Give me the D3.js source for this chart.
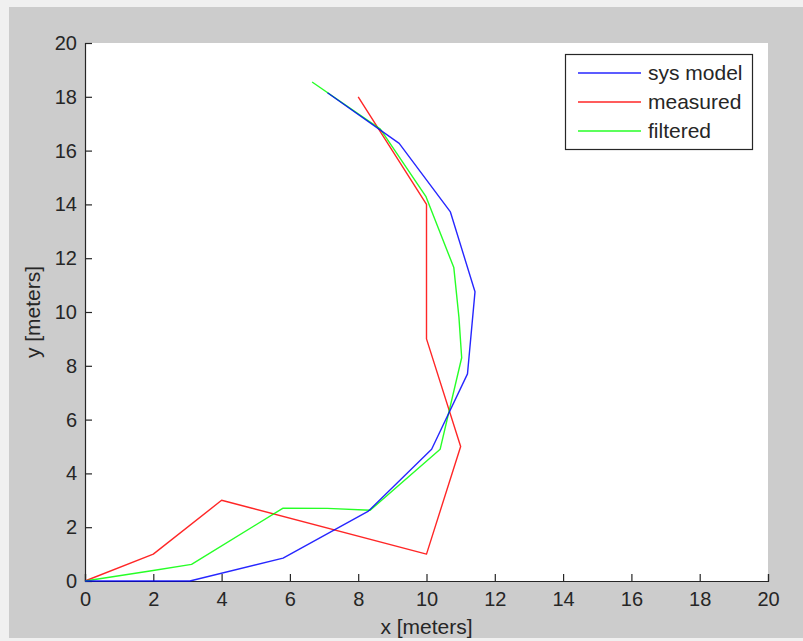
<!DOCTYPE html>
<html><head><meta charset="utf-8">
<script src="https://cdn.jsdelivr.net/npm/d3@7"></script>
<style>
html,body{margin:0;padding:0;background:#f0f0f0;}
svg{display:block;}
text{font-family:"Liberation Sans",Arial,sans-serif;fill:#262626;}
</style></head>
<body>
<svg id="chart" width="803" height="641"></svg>
<script>
const sysX = [0, 3.07, 5.8, 8.3, 10.15, 11.2, 11.42, 10.7, 9.2, 7.1];
const sysY = [0, 0, 0.85, 2.6, 4.9, 7.7, 10.75, 13.72, 16.27, 18.15];
const measuredX = [0, 2, 4, 10, 11, 10, 10, 8];
const measuredY = [0, 1, 3, 1, 5, 9, 14, 18];
const filteredX = [0, 1.95, 3.12, 5.8, 7.1, 8.35, 10.4, 11.03, 10.95, 10.8, 9.98, 8.65, 6.65];
const filteredY = [0, 0.38, 0.62, 2.71, 2.7, 2.63, 4.9, 8.3, 9.8, 11.65, 14.3, 16.8, 18.55];
const xTicks = [0,2,4,6,8,10,12,14,16,18,20];
const yTicks = [0,2,4,6,8,10,12,14,16,18,20];
const seriesNames = ["sys model","measured","filtered"];
const seriesColors = ["#0000ff","#ff0000","#00ff00"];

const svg = d3.select("#chart");
svg.append("rect").attr("x",9).attr("y",7).attr("width",794).attr("height",631).attr("fill","#cccccc");

const L=85, R=768, T=43, B=581;
const x = d3.scaleLinear().domain([0,20]).range([L,R]);
const y = d3.scaleLinear().domain([0,20]).range([B,T]);

svg.append("rect").attr("x",L).attr("y",T).attr("width",R-L).attr("height",B-T).attr("fill","#ffffff");

const fs = 20;
const xAxis = d3.axisBottom(x).tickValues(xTicks).tickSizeInner(-7).tickSizeOuter(-7).tickPadding(11).tickFormat(d3.format("d"));
const yAxis = d3.axisLeft(y).tickValues(yTicks).tickSizeInner(-7).tickSizeOuter(-7).tickPadding(8).tickFormat(d3.format("d"));

const gx = svg.append("g").attr("transform",`translate(0,${B})`).call(xAxis);
const gy = svg.append("g").attr("transform",`translate(${L},0)`).call(yAxis);
[gx,gy].forEach(g=>{
  g.selectAll("path").attr("stroke","#262626").attr("stroke-width",1.2);
  g.selectAll("line").attr("stroke","#262626").attr("stroke-width",1.2);
  g.selectAll("text").style("font-size",fs+"px").attr("fill","#262626").style("font-family","'Liberation Sans',Arial,sans-serif");
});

const line = d3.line().x(d=>x(d[0])).y(d=>y(d[1]));
const series = [
  d3.zip(sysX, sysY),
  d3.zip(measuredX, measuredY),
  d3.zip(filteredX, filteredY)
];
[1,2,0].forEach(i=>{
  svg.append("path").datum(series[i]).attr("d",line).attr("fill","none")
    .attr("stroke",seriesColors[i]).attr("stroke-width",1.4).attr("stroke-linejoin","round")
    .attr("opacity",0.85);
});

svg.append("text").attr("x",(L+R)/2).attr("y",634).attr("text-anchor","middle").style("font-size","21px").text("x [meters]");
svg.append("text").attr("transform","translate(40,312) rotate(-90)").attr("text-anchor","middle").style("font-size","21px").text("y [meters]");

const lg = svg.append("g");
lg.append("rect").attr("x",565.5).attr("y",54.5).attr("width",187).attr("height",95).attr("fill","#ffffff").attr("stroke","#262626").attr("stroke-width",1.2);
const rowY=[73,102,131];
seriesNames.forEach((n,i)=>{
  lg.append("line").attr("x1",578).attr("x2",641).attr("y1",rowY[i]).attr("y2",rowY[i]).attr("stroke",seriesColors[i]).attr("stroke-width",1.4).attr("opacity",0.85);
  lg.append("text").attr("x",648).attr("y",rowY[i]).attr("dy","0.35em").style("font-size","21px").text(n);
});
</script>
</body></html>
